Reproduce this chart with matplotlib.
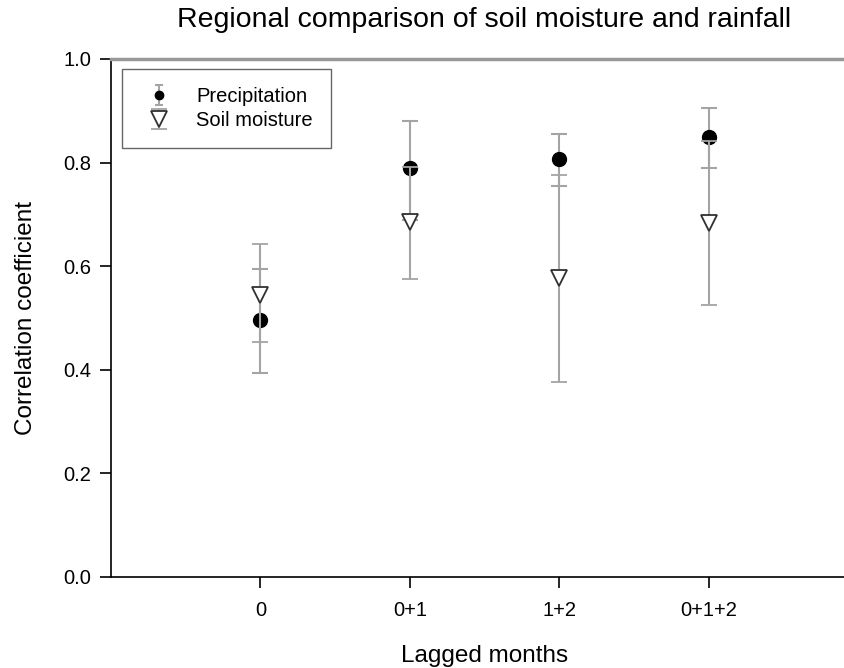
import matplotlib
matplotlib.use("Agg")
import matplotlib.pyplot as plt
from matplotlib.legend_handler import HandlerErrorbar

plt.rcParams['font.family'] = ['Liberation Sans', 'DejaVu Sans']

# lag groups on the x axis
lags = ["0", "0+1", "1+2", "0+1+2"]
xpos = [1, 2, 3, 4]

# precipitation: correlation and interval ends
precip = [0.496, 0.789, 0.806, 0.850]
precip_low = [0.393, 0.690, 0.755, 0.790]
precip_high = [0.595, 0.880, 0.855, 0.905]

# soil moisture: correlation and interval ends
soil = [0.545, 0.685, 0.577, 0.684]
soil_low = [0.454, 0.575, 0.377, 0.525]
soil_high = [0.642, 0.792, 0.776, 0.842]

precip_err = [[v - lo for v, lo in zip(precip, precip_low)],
              [hi - v for v, hi in zip(precip, precip_high)]]
soil_err = [[v - lo for v, lo in zip(soil, soil_low)],
            [hi - v for v, hi in zip(soil, soil_high)]]

fig = plt.figure(figsize=(8.44, 6.68), dpi=100)
# axes runs past the right edge like the original export
ax = fig.add_axes([111 / 844, 1 - 577 / 668, 747 / 844, 518 / 668])

pr = ax.errorbar(xpos, precip, yerr=precip_err, fmt='o', color='black',
                 markersize=10, ecolor='#a4a4a4', elinewidth=1.5, capsize=6,
                 capthick=1.5, zorder=2, label='Precipitation')
sm = ax.errorbar(xpos, soil, yerr=soil_err, fmt='v', color='#303030',
                 markerfacecolor='white', markeredgewidth=1.3, markersize=11,
                 ecolor='#a4a4a4', elinewidth=1.5, capsize=6, capthick=1.5,
                 zorder=3, label='Soil moisture')

ax.set_xlim(0, 5)
ax.set_ylim(0, 1.0)
ax.set_xticks(xpos)
ax.set_xticklabels(lags)
ax.set_yticks([0.0, 0.2, 0.4, 0.6, 0.8, 1.0])
ax.set_yticklabels(["0.0", "0.2", "0.4", "0.6", "0.8", "1.0"])
ax.tick_params(direction='out', length=8, width=1.2, labelsize=14.5)
ax.tick_params(axis='x', pad=9)
ax.tick_params(axis='y', pad=6)

for side in ['left', 'bottom']:
    ax.spines[side].set_linewidth(1.2)
ax.spines['top'].set_color('#999999')
ax.spines['top'].set_linewidth(2.5)
ax.spines['right'].set_visible(False)

ax.set_xlabel("Lagged months", fontsize=17.5, labelpad=18)
ax.set_ylabel("Correlation coefficient", fontsize=17.5, labelpad=19)
ax.set_title("Regional comparison of soil moisture and rainfall",
             fontsize=20.5, pad=23)


def small_dot(legend_artist, orig):
    legend_artist.update_from(orig)
    if hasattr(legend_artist, 'set_markersize'):
        legend_artist.set_markersize(6)


leg = ax.legend(handles=[pr, sm], loc='upper left',
                bbox_to_anchor=(0.0147, 0.981), borderaxespad=0,
                fontsize=14.5, frameon=True, fancybox=False,
                edgecolor='#404040', handlelength=1.9, handletextpad=0.9,
                borderpad=0.9, labelspacing=0.25,
                handler_map={pr: HandlerErrorbar(update_func=small_dot)})
leg.get_frame().set_linewidth(1.0)

fig.savefig("out.png", dpi=100)
